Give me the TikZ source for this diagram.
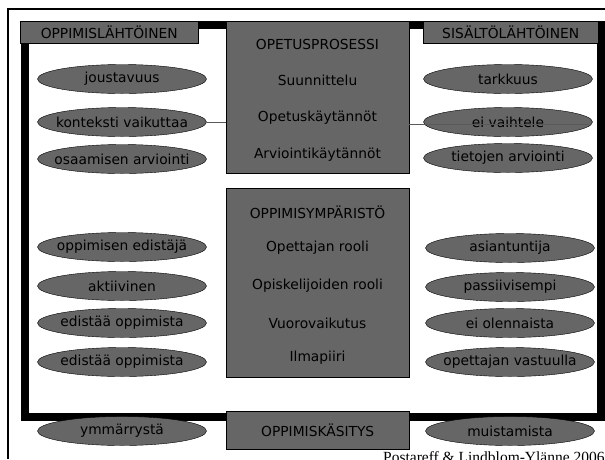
\documentclass[tikz,border=0pt]{standalone}
\usepackage{fontspec}
\setmainfont{DejaVu Sans}
\newfontfamily\citefont{Liberation Serif}
\usetikzlibrary{shapes.geometric,positioning}
\definecolor{boxgray}{RGB}{102,102,102}

\begin{document}
\begin{tikzpicture}[x=1pt,y=-1pt,
  every node/.style={font=\fontsize{13.8}{16}\selectfont},
  oval/.style={ellipse,draw=black,fill=boxgray,minimum width=169pt,minimum height=29pt,inner sep=0pt,label={center:#1}},
  panel/.style={draw=black,fill=boxgray,inner sep=0pt,anchor=north west},
  tag/.style={inner sep=0pt},
  link/.style={draw=black!65,line width=0.8pt}]
  \useasboundingbox (0,0) rectangle (605,459);
  \draw[line width=2pt] (8,459) -- (8,9) -- (605,9);                 % slide border
  \draw[line width=8pt] (24.5,24.5) rectangle (601,416.5);          % thick frame
  % header boxes
  \node[panel,minimum width=178pt,minimum height=22pt] (oppbox) at (20,21) {};
  \node[tag] (opplah) at (oppbox.center) {OPPIMISLÄHTÖINEN};
  \node[panel,minimum width=175pt,minimum height=22pt] (sisbox) at (423,21) {};
  \node[tag] (sislah) at (sisbox.center) {SISÄLTÖLÄHTÖINEN};
  % opetusprosessi
  \node[panel,minimum width=183pt,minimum height=152pt] (opetus) at (226,21) {};
  \node[tag] (opet0) at (317.5,44) {OPETUSPROSESSI};
  \node[tag] (opet1) at (317.5,80) {Suunnittelu};
  \node[tag] (opet2) at (317.5,118) {Opetuskäytännöt};
  \node[tag] (opet3) at (317.5,155) {Arviointikäytännöt};
  % oppimisymparisto
  \node[panel,minimum width=183pt,minimum height=189pt] (ymparisto) at (226,188) {};
  \node[tag] (ymp0) at (317.5,212) {OPPIMISYMPÄRISTÖ};
  \node[tag] (ymp1) at (317.5,248) {Opettajan rooli};
  \node[tag] (ymp2) at (317.5,286) {Opiskelijoiden rooli};
  \node[tag] (ymp3) at (317.5,323) {Vuorovaikutus};
  \node[tag] (ymp4) at (317.5,358) {Ilmapiiri};
  % oppimiskasitys
  \node[panel,minimum width=183pt,minimum height=38pt] (kasitys) at (226,411) {};
  \node[tag] (kas0) at (kasitys.center) {OPPIMISKÄSITYS};
  % left ovals
  \node[oval=joustavuus] (jousto) at (122,79) {};
  \node[oval=konteksti vaikuttaa] (konteksti) at (122,122) {};
  \node[oval=osaamisen arviointi] (osaaminen) at (122,159) {};
  \node[oval=oppimisen edistäjä] (edistaja) at (122,247) {};
  \node[oval=aktiivinen] (aktiivi) at (122,286) {};
  \node[oval=edistää oppimista] (edista1) at (122,323) {};
  \node[oval=edistää oppimista] (edista2) at (122,362) {};
  \node[oval=ymmärrystä] (ymmarrys) at (122,431) {};
  % right ovals
  \node[oval=tarkkuus] (tarkkuus) at (508,79) {};
  \node[oval=ei vaihtele] (vaihtele) at (508,122) {};
  \node[oval=tietojen arviointi] (tietojen) at (508,158) {};
  \node[oval=asiantuntija] (asiantuntija) at (510,248) {};
  \node[oval=passiivisempi] (passiivi) at (510,287) {};
  \node[oval=ei olennaista] (olennaista) at (510,323) {};
  \node[oval=opettajan vastuulla] (vastuu) at (510,362) {};
  \node[oval=muistamista] (muistaminen) at (510,431) {};
  % links
  \coordinate (vaihteleend) at (588,124);
  \draw[link] (konteksti.east) -- (opetus.west |- konteksti.east);
  \draw[link] (opetus.east |- vaihteleend) -- (vaihteleend);
  % source, cut by the page edge
  \node[anchor=base west,inner sep=0pt,font=\citefont\fontsize{15.5}{17}\selectfont] (source) at (383,462) {Postareff \& Lindblom-Ylänne 2006};
\end{tikzpicture}
\end{document}
